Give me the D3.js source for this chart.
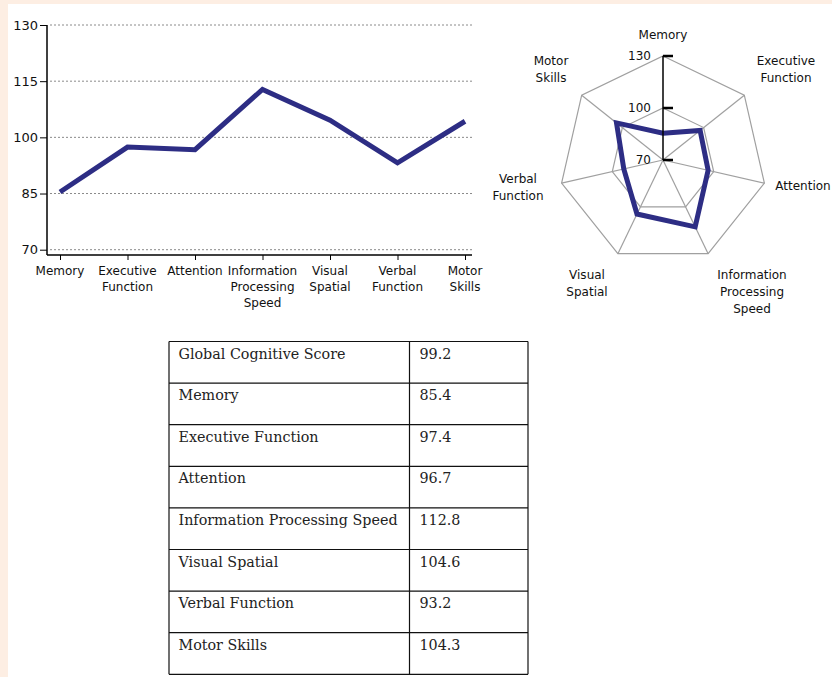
<!DOCTYPE html>
<html>
<head>
<meta charset="utf-8">
<script src="https://cdn.jsdelivr.net/npm/d3@7"></script>
<style>
  body { margin: 0; background: #fdeee3; }
  svg { display: block; }
</style>
</head>
<body>
<div class="chart"></div>
<script>
//data
var categories = ["Memory", "Executive Function", "Attention", "Information Processing Speed", "Visual Spatial", "Verbal Function", "Motor Skills"];
var scores = [85.4, 97.4, 96.7, 112.8, 104.6, 93.2, 104.3];
//wrapped label lines for the axes
var catLines = [["Memory"], ["Executive", "Function"], ["Attention"], ["Information", "Processing", "Speed"], ["Visual", "Spatial"], ["Verbal", "Function"], ["Motor", "Skills"]];
var yTicks = [70, 85, 100, 115, 130];
var radarTicks = [70, 100, 130];
var radarLevels = [100, 130];
var tableLabels = ["Global Cognitive Score", "Memory", "Executive Function", "Attention", "Information Processing Speed", "Visual Spatial", "Verbal Function", "Motor Skills"];
var tableValues = ["99.2", "85.4", "97.4", "96.7", "112.8", "104.6", "93.2", "104.3"];

//svg dims and look
var width = 832;
var height = 677;
var lineColor = "#2d2d84";
var sansFont = "DejaVu Sans, sans-serif";

var svg = d3.select(".chart")
            .append("svg")
            .attr("width", width)
            .attr("height", height);

//page panel
svg.append("rect").attr("width", width).attr("height", height).attr("fill", "#fdeee3");
svg.append("rect").attr("x", 8).attr("y", 4).attr("width", width - 8).attr("height", height - 4).attr("fill", "#fff");

//---------- line chart ----------
var xScale = d3.scalePoint()
               .domain(categories)
               .range([60, 465]);
var yScale = d3.scaleLinear()
               .domain([70, 130])
               .range([249.7, 25]);
var axisLeftX = 47;
var axisBottomY = 255;

var lineG = svg.append("g").attr("id", "line-chart");

//dotted grid
lineG.append("g")
     .selectAll("line")
     .data(yTicks)
     .enter()
     .append("line")
     .attr("x1", axisLeftX + 3)
     .attr("x2", 472)
     .attr("y1", d => yScale(d))
     .attr("y2", d => yScale(d))
     .attr("stroke", "#8a8a8a")
     .attr("stroke-dasharray", "2,2");

//y axis
var yAxis = d3.axisLeft(yScale)
              .tickValues(yTicks)
              .tickSize(7)
              .tickPadding(2);
var yG = lineG.append("g")
              .attr("transform", `translate(${axisLeftX}, 0)`)
              .call(yAxis);
yG.select(".domain").remove();
yG.selectAll("text").attr("font-family", sansFont).attr("font-size", 13).attr("fill", "#111");
yG.selectAll("line").attr("stroke", "#000");

//x axis
var xAxis = d3.axisBottom(xScale)
              .tickSize(5)
              .tickFormat("");
var xG = lineG.append("g")
              .attr("transform", `translate(0, ${axisBottomY})`)
              .call(xAxis);
xG.select(".domain").remove();
xG.selectAll("line").attr("stroke", "#000");

//axis lines
lineG.append("line")
     .attr("x1", axisLeftX).attr("x2", axisLeftX)
     .attr("y1", yScale(130)).attr("y2", axisBottomY)
     .attr("stroke", "#000").attr("stroke-width", 1.5);
lineG.append("line")
     .attr("x1", axisLeftX).attr("x2", 472)
     .attr("y1", axisBottomY).attr("y2", axisBottomY)
     .attr("stroke", "#000").attr("stroke-width", 1.5);

//category labels
var xLab = lineG.append("g")
                .selectAll("text")
                .data(categories)
                .enter()
                .append("text")
                .attr("text-anchor", "middle")
                .attr("font-family", sansFont)
                .attr("font-size", 12)
                .attr("fill", "#111");
xLab.selectAll("tspan")
    .data((d, i) => catLines[i].map(t => ({ t: t, c: d })))
    .enter()
    .append("tspan")
    .attr("x", d => xScale(d.c))
    .attr("y", (d, j) => 275 + j * 16)
    .text(d => d.t);

//score line
var line = d3.line()
             .x((d, i) => xScale(categories[i]))
             .y(d => yScale(d));
lineG.append("path")
     .datum(scores)
     .attr("d", line)
     .attr("fill", "none")
     .attr("stroke", lineColor)
     .attr("stroke-width", 5)
     .attr("stroke-linejoin", "miter");

//---------- radar chart ----------
var cx = 663;
var cy = 160;
var rScale = d3.scaleLinear()
               .domain([70, 130])
               .range([0, 104]);
var angle = d3.scalePoint()
              .domain(categories)
              .range([0, 2 * Math.PI * 6 / 7]);
var radial = d3.lineRadial()
               .angle((d, i) => angle(categories[i]))
               .radius(d => rScale(d))
               .curve(d3.curveLinearClosed);

var radarG = svg.append("g")
                .attr("id", "radar")
                .attr("transform", `translate(${cx}, ${cy})`);

//level polygons
radarG.selectAll(".level")
      .data(radarLevels)
      .enter()
      .append("path")
      .attr("class", "level")
      .attr("d", lv => radial(categories.map(() => lv)))
      .attr("fill", "none")
      .attr("stroke", "#a0a0a0")
      .attr("stroke-width", 1.2);

//spokes
radarG.selectAll(".spoke")
      .data(categories.slice(1))
      .enter()
      .append("line")
      .attr("class", "spoke")
      .attr("x1", 0).attr("y1", 0)
      .attr("x2", d => rScale(130) * Math.sin(angle(d)))
      .attr("y2", d => -rScale(130) * Math.cos(angle(d)))
      .attr("stroke", "#a0a0a0")
      .attr("stroke-width", 1.2);

//score polygon
radarG.append("path")
      .datum(scores)
      .attr("d", radial)
      .attr("fill", "none")
      .attr("stroke", lineColor)
      .attr("stroke-width", 5)
      .attr("stroke-linejoin", "miter");

//value axis on the Memory spoke
var rAxisScale = d3.scaleLinear().domain([70, 130]).range([0, -104]);
radarG.append("line")
      .attr("x1", 0).attr("x2", 0)
      .attr("y1", 0).attr("y2", rAxisScale(130))
      .attr("stroke", "#000").attr("stroke-width", 1.5);
radarG.selectAll(".rtick")
      .data(radarTicks)
      .enter()
      .append("line")
      .attr("class", "rtick")
      .attr("x1", 0).attr("x2", 10)
      .attr("y1", d => rAxisScale(d)).attr("y2", d => rAxisScale(d))
      .attr("stroke", "#000").attr("stroke-width", 2.5);
radarG.selectAll(".rlab")
      .data(radarTicks)
      .enter()
      .append("text")
      .attr("class", "rlab")
      .attr("x", -12)
      .attr("y", d => rAxisScale(d))
      .attr("dy", "0.35em")
      .attr("text-anchor", "end")
      .attr("font-family", sansFont)
      .attr("font-size", 12)
      .attr("fill", "#111")
      .text(d => d);

//radar category labels, text block centres around the chart
var radarLabelPos = [[0, -125], [123, -90.5], [140, 26], [89, 132], [-76, 123.5], [-145, 27.5], [-112, -90.5]];
var rLab = radarG.append("g")
                 .selectAll("text")
                 .data(categories)
                 .enter()
                 .append("text")
                 .attr("text-anchor", "middle")
                 .attr("font-family", sansFont)
                 .attr("font-size", 12)
                 .attr("fill", "#111");
rLab.selectAll("tspan")
    .data((d, i) => catLines[i].map((t, j, arr) => ({ t: t, j: j, n: arr.length, p: radarLabelPos[i] })))
    .enter()
    .append("tspan")
    .attr("x", d => d.p[0])
    .attr("y", d => d.p[1] - (d.n - 1) * 8.5 + d.j * 17 + 4.3)
    .text(d => d.t);

//---------- score table ----------
var tableX = [169, 409.5, 528];
var tableTop = 341.5;
var rowH = 41.6;
var tableG = svg.append("g").attr("id", "score-table");
var rowScale = d3.scaleLinear()
                 .domain([0, tableLabels.length])
                 .range([tableTop, tableTop + rowH * tableLabels.length]);

tableG.selectAll(".hline")
      .data(d3.range(tableLabels.length + 1))
      .enter()
      .append("line")
      .attr("class", "hline")
      .attr("x1", tableX[0]).attr("x2", tableX[2])
      .attr("y1", d => rowScale(d)).attr("y2", d => rowScale(d))
      .attr("stroke", "#111").attr("stroke-width", 1.2);
tableG.selectAll(".vline")
      .data(tableX)
      .enter()
      .append("line")
      .attr("class", "vline")
      .attr("x1", d => d).attr("x2", d => d)
      .attr("y1", rowScale(0)).attr("y2", rowScale(tableLabels.length))
      .attr("stroke", "#111").attr("stroke-width", 1.2);

tableG.selectAll(".tlab")
      .data(tableLabels)
      .enter()
      .append("text")
      .attr("class", "tlab")
      .attr("x", tableX[0] + 9.5)
      .attr("y", (d, i) => rowScale(i) + 17)
      .attr("font-family", "DejaVu Serif, serif")
      .attr("font-size", 14.3)
      .attr("fill", "#222")
      .text(d => d);
tableG.selectAll(".tval")
      .data(tableValues)
      .enter()
      .append("text")
      .attr("class", "tval")
      .attr("x", tableX[1] + 10)
      .attr("y", (d, i) => rowScale(i) + 17)
      .attr("font-family", "DejaVu Serif, serif")
      .attr("font-size", 14.3)
      .attr("fill", "#222")
      .text(d => d);
</script>
</body>
</html>
